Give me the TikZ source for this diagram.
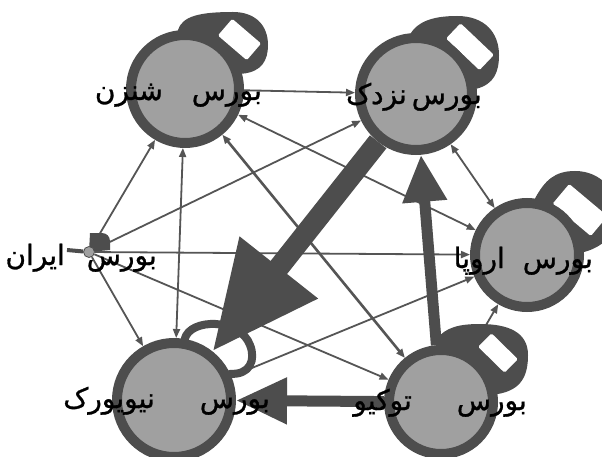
\documentclass[tikz,border=0pt]{standalone}
\usepackage{fontspec}
\usetikzlibrary{arrows.meta}
\TeXXeTstate=1
\newfontfamily\arabicfont[Script=Arabic, FakeBold=1]{DejaVu Sans}
\definecolor{edgegray}{HTML}{555555}
\definecolor{ringgray}{HTML}{4D4D4D}
\definecolor{fillgray}{HTML}{A0A0A0}
\pgfdeclarelayer{bg}
\pgfdeclarelayer{thinlinks}
\pgfdeclarelayer{loops}
\pgfdeclarelayer{heavylinks}
\pgfsetlayers{bg,thinlinks,loops,heavylinks,main}
\tikzset{
  market/.style={circle, draw=ringgray, fill=fillgray, line width=10pt, inner sep=0pt},
  smallmarket/.style={circle, draw=ringgray, fill=fillgray, line width=0.8pt, inner sep=0pt, minimum size=11pt},
  link/.style={draw=edgegray, line width=1.8pt, -{Triangle[length=9pt,width=7pt]}},
  twoway/.style={link, {Triangle[length=9pt,width=7pt]}-{Triangle[length=9pt,width=7pt]}},
  selfloop/.style={draw=ringgray, line cap=round, line join=round},
  loopband/.style={fill=ringgray},
  loophole/.style={fill=white, rounded corners=1.5pt},
  heavy/.style={draw=ringgray, fill=ringgray},
  marketlabel/.style={font=\arabicfont\fontsize{28}{32}\selectfont, anchor=base east, inner sep=0pt, text=black},
}
\begin{document}
\begin{tikzpicture}[x=1pt,y=1pt]
\useasboundingbox (0,0) rectangle (602,-457);
\begin{pgfonlayer}{bg}
  \fill[white] (0,0) rectangle (602,-457);
\end{pgfonlayer}

% markets
\node[market, minimum size=108pt] (sz) at (185,-89) {};
\node[market, minimum size=112pt] (nz) at (416,-94) {};
\node[market, minimum size=104pt] (eu) at (527,-255) {};
\node[market, minimum size=104pt] (tk) at (441,-402) {};
\node[market, minimum size=114pt] (ny) at (174,-400) {};
\node[smallmarket] (ir) at (89,-252) {};
\coordinate (irstub) at (67,-250);

% ordinary links
\begin{pgfonlayer}{thinlinks}
  \draw[link] (ir) -- (sz);
  \draw[link] (ir) -- (nz);
  \draw[link] (ir) -- (eu);
  \draw[link] (ir) -- (ny);
  \draw[link] (ir) -- (tk);
  \draw[link] (sz) -- (nz);
  \draw[twoway] (sz) -- (eu);
  \draw[twoway, line width=2.6pt] (sz) -- (tk);
  \draw[twoway] (sz) -- (ny);
  \draw[twoway] (nz) -- (eu);
  \draw[link] (ny) -- (eu);
  \draw[link] (tk) -- (eu);
  \draw[ringgray, line width=4pt] (ir) -- (irstub);
\end{pgfonlayer}

% self loops: a dark band with a white opening
\begin{pgfonlayer}{loops}
  \begin{scope}
    \clip (0,0) rectangle (602,-457);
    % Shenzhen
    \path[loopband] (sz.center) -- (sz.97) .. controls (182,-16) and (200,-12) .. (233,-12)
      .. controls (255,-12) and (268,-25) .. (268,-45) .. controls (268,-60) and (262,-72) .. (sz.15) -- cycle;
    \path[loophole, shift={(239.5,-39.5)}, rotate=-40.6] (-19,-11) rectangle (19,11);
    % Nasdaq
    \path[loopband] (nz.center) -- (nz.95) .. controls (418,-22) and (432,-16) .. (457,-16)
      .. controls (485,-16) and (499,-33) .. (499,-55) .. controls (499,-72) and (494,-84) .. (nz.5) -- cycle;
    \path[loophole, shift={(470,-46.7)}, rotate=-43.5] (-23,-10.5) rectangle (23,10.5);
    % Tokyo
    \path[loopband] (tk.center) -- (436,-340) .. controls (445,-327) and (460,-324) .. (480,-324)
      .. controls (508,-324) and (528,-332) .. (528,-355) .. controls (528,-375) and (522,-390) .. (tk.8) -- cycle;
    \path[loophole, shift={(498,-353)}, rotate=-44.5] (-18.5,-9.5) rectangle (18.5,9.5);
    % Europe
    \path[loopband] (eu.center) -- (eu.82) .. controls (545,-180) and (555,-171) .. (575,-171)
      .. controls (600,-171) and (618,-190) .. (618,-215) .. controls (618,-235) and (600,-248) .. (eu.3) -- cycle;
    \path[loophole, shift={(580,-210)}, rotate=-40] (-25,-13) rectangle (25,13);
    % New York
    \draw[selfloop, line width=8pt] (ny.80) .. controls (190,-318) and (240,-318) .. (250,-345)
      .. controls (256,-360) and (250,-375) .. (ny.25);
    % Iran
    \path[loopband] (ir.center) -- (90,-233) -- (102,-233) arc (90:0:8) -- (110,-250) -- cycle;
  \end{scope}
\end{pgfonlayer}

% heavy links
\begin{pgfonlayer}{heavylinks}
  \draw[heavy, line width=21pt, -{Triangle[length=107pt,width=94pt]}] (nz) -- (ny);
  \draw[heavy, line width=11pt, -{Triangle[length=47pt,width=42pt]}] (tk) -- (nz);
  \draw[heavy, line width=11pt, -{Triangle[length=51pt,width=44pt]}] (tk) -- (ny);
\end{pgfonlayer}

% labels
\node[marketlabel] (szl) at (262,-100) {\beginR بورس\hspace{29pt}شنزن\endR};
\node[marketlabel] (nzl) at (482,-104) {\beginR بورس\hspace{5pt}نزدک\endR};
\node[marketlabel] (irl) at (157,-265) {\beginR بورس\hspace{22pt}ایران\endR};
\node[marketlabel] (eul) at (593,-268) {\beginR بورس\hspace{18pt}اروپا\endR};
\node[marketlabel] (nyl) at (270,-408) {\beginR بورس\hspace{45pt}نیویورک\endR};
\node[marketlabel] (tkl) at (527,-410) {\beginR بورس\hspace{45pt}توکیو\endR};
\end{tikzpicture}
\end{document}
